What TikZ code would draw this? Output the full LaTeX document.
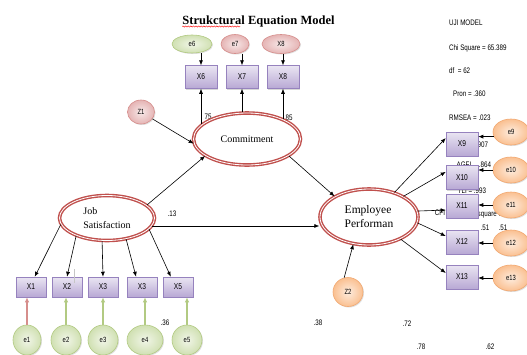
\documentclass[tikz,border=0pt]{standalone}
\usepackage{fontspec}
\setmainfont{Liberation Serif}
\newfontfamily\narrowsf[FakeStretch=0.78]{Liberation Sans}
\usetikzlibrary{arrows}
\usetikzlibrary{arrows.meta}
\usetikzlibrary{shapes.geometric}
\usetikzlibrary{shadows}
\usetikzlibrary{decorations.pathmorphing}

\definecolor{semred}{RGB}{192,80,77}
\definecolor{boxfill}{RGB}{184,168,212}
\definecolor{boxline}{RGB}{150,130,190}
\definecolor{grnfill}{RGB}{208,224,178}
\definecolor{grnline}{RGB}{178,202,130}
\definecolor{pnkfill}{RGB}{229,180,180}
\definecolor{pnkline}{RGB}{214,142,140}
\definecolor{orgfill}{RGB}{250,192,145}
\definecolor{orgline}{RGB}{242,168,112}

\tikzset{
  latent/.style={ellipse, draw=semred, line width=1.4pt, double=white, double distance=0.8pt,
    fill=white, inner sep=0pt, align=left, font=\fontsize{10}{14}\selectfont},
  indicator/.style={rectangle, draw=boxline, line width=0.5pt, top color=boxfill!30, bottom color=boxfill,
    minimum width=32pt, minimum height=23pt, inner sep=0pt, font=\narrowsf\fontsize{8.5}{8.5}\selectfont,
    drop shadow={opacity=0.3, shadow xshift=1.2pt, shadow yshift=-1.2pt}},
  errball/.style={ellipse, line width=0.6pt, inner sep=0pt, font=\narrowsf\fontsize{7.5}{7.5}\selectfont,
    drop shadow={opacity=0.25, shadow xshift=1pt, shadow yshift=-1pt}},
  errgreen/.style={errball, draw=grnline, inner color=grnfill!30, outer color=grnfill},
  errpink/.style={errball, draw=pnkline, inner color=pnkfill!30, outer color=pnkfill},
  errorange/.style={errball, draw=orgline, inner color=orgfill!30, outer color=orgfill},
  stat/.style={inner sep=0pt, font=\narrowsf\fontsize{8}{9}\selectfont},
  link/.style={->, >={Latex[length=5pt,width=4pt]}, line width=0.6pt},
  feed/.style={->, >={Latex[length=5pt,width=4.5pt]}, line width=1.2pt, draw=grnline},
  squiggle/.style={draw=red, line width=0.4pt, decorate, decoration={snake, amplitude=0.6pt, segment length=2.6pt}}
}

\begin{document}
\begin{tikzpicture}[x=1pt, y=-1pt]
\useasboundingbox (0,0) rectangle (527,354);
\clip (0,0) rectangle (527,354);
\fill[white] (0,0) rectangle (527,354);

% title
\node[inner sep=0pt, font=\bfseries\fontsize{12.5}{14}\selectfont] (title) at (258.5,21) {Strukctural Equation Model};
\draw[squiggle] (title.base west) ++(0,2.5) -- ++(58,0);

% fit statistics
\node[stat, anchor=west] (uji) at (449,23) {UJI MODEL};
\node[stat, anchor=west] (chi) at (449,48) {Chi Square = 65.389};
\node[stat, anchor=west] (df) at (449,71) {df\ \ = 62};
\node[stat, anchor=west] (pron) at (453,94) {Pron = .360};
\node[stat, anchor=west] (rmsea) at (449,118) {RMSEA = .023};
\node[stat, anchor=west] (gfi) at (477.5,145) {907};
\node[stat] (agfi) at (464,165) {AGFI};
\node[stat] (agfiv) at (485,165) {.864};
\node[stat] (tli) at (472,191) {TLI = .993};
\node[stat] (cfi) at (440,213) {CFI};
\node[stat] (sq) at (489,215) {square :};
\node[stat] (r51a) at (485,228) {.51};
\node[stat] (r51b) at (503,228) {.51};

% loadings and other values
\node[stat] (l75) at (208,117) {75};
\node[stat] (l85) at (289,118) {85};
\node[stat] (l13) at (172,214) {.13};
\node[stat] (l36) at (165,323) {.36};
\node[stat] (l38) at (318,323) {.38};
\node[stat] (l72) at (407,324) {.72};
\node[stat] (l78) at (421,347) {.78};
\node[stat] (l62) at (490,347) {.62};

% latent variables
\node[latent, minimum width=107pt, minimum height=52pt] (com) at (247,139) {Commitment};
\node[latent, minimum width=95pt, minimum height=45pt] (js) at (107,218) {Job\\Satisfaction};
\node[latent, minimum width=98pt, minimum height=56pt, font=\fontsize{11.5}{14}\selectfont] (emp) at (369,217) {Employee\\Performan};

% disturbances
\node[errpink, minimum width=27pt, minimum height=24pt] (z1) at (141,112) {Z1};
\node[errorange, minimum width=30pt, minimum height=29pt] (z2) at (348,292) {Z2};

% Commitment indicators
\node[errgreen, minimum width=40pt, minimum height=18pt] (e6) at (192,44) {e6};
\node[errpink, minimum width=28pt, minimum height=19pt] (e7) at (235,44) {e7};
\node[errpink, minimum width=38pt, minimum height=19pt] (e8) at (281,44) {X8};
\node[indicator] (x6) at (201,77) {X6};
\node[indicator] (x7) at (242,77) {X7};
\node[indicator] (x8) at (283,77) {X8};

% Job Satisfaction indicators
\node[indicator, minimum width=30pt, minimum height=20pt] (x1) at (31,287) {X1};
\node[indicator, minimum width=30pt, minimum height=20pt] (x2) at (67,287) {X2};
\node[indicator, minimum width=30pt, minimum height=20pt] (x3) at (103,287) {X3};
\node[indicator, minimum width=30pt, minimum height=20pt] (x4) at (142,287) {X3};
\node[indicator, minimum width=30pt, minimum height=20pt] (x5) at (178,287) {X5};
\node[errgreen, minimum width=28pt, minimum height=30pt] (e1) at (27,340) {e1};
\node[errgreen, minimum width=30pt, minimum height=30pt] (e2) at (66,340) {e2};
\node[errgreen, minimum width=30pt, minimum height=30pt] (e3) at (103,340) {e3};
\node[errgreen, minimum width=36pt, minimum height=30pt] (e4) at (145,340) {e4};
\node[errgreen, minimum width=30pt, minimum height=30pt] (e5) at (187,340) {e5};
\draw[gray!45, line width=0.4pt] (74,269) -- (74,283);

% Employee Performan indicators
\node[indicator, minimum height=24pt] (x9) at (462,144) {X9};
\node[indicator, minimum height=24pt] (x10) at (462,177.5) {X10};
\node[indicator, minimum height=24pt] (x11) at (462,206) {X11};
\node[indicator, minimum height=24pt] (x12) at (462,242) {X12};
\node[indicator, minimum height=24pt] (x13) at (462,277) {X13};
\node[errorange, minimum width=36pt, minimum height=26pt] (e9) at (511,132) {e9};
\node[errorange, minimum width=36pt, minimum height=26pt] (e10) at (511,170) {e10};
\node[errorange, minimum width=36pt, minimum height=26pt] (e11) at (511,205) {e11};
\node[errorange, minimum width=36pt, minimum height=26pt] (e12) at (511,243) {e12};
\node[errorange, minimum width=36pt, minimum height=26pt] (e13) at (511,278) {e13};

% structural paths
\draw[link] (js.18) -- (com.202);
\draw[link] (js.-10) -- (js.-10 -| emp.west);
\draw[link] (com.338) -- (emp.149);
\draw[link] (z1) -- (com.185);
\draw[link] (z2.105) -- (emp.240);

% measurement paths
\draw[link] (x6 |- e6.south) -- (x6.north);
\draw[link] (x7 |- e7.south) -- (x7.north);
\draw[link] (x8 |- e8.south) -- (x8.north);
\draw[link] (x6 |- com.161) -- (x6.south);
\draw[link] (x7 |- com.north) -- (x7.south);
\draw[link] (x8 |- com.30) -- (x8.south);

\draw[link] (js.188) -- (x1.70);
\draw[link] (js.210) -- (x2.north);
\draw[link] (js.258) -- (x3.north);
\draw[link] (js.312) -- (x4.120);
\draw[link] (js.345) -- (x5.125);
\draw[feed, draw=pnkline] (e1.north) -- (e1.north |- x1.south);
\draw[feed] (e2.north) -- (e2.north |- x2.south);
\draw[feed] (e3.north) -- (e3.north |- x3.south);
\draw[feed] (e4.north) -- (e4.north |- x4.south);
\draw[feed] (e5.north) -- (e5.north |- x5.south);

\draw[link] (emp.44) -- (x9.160);
\draw[link] (emp.31) -- (x10.161);
\draw[link] (emp.7) -- (x11.194);
\draw[link] (emp.353) -- (x12.160);
\draw[link] (emp.325) -- (x13.166);
\draw[link] (e9.195) -- (e9.195 -| x9.east);
\draw[link] (e10.west) -- (e10.west -| x10.east);
\draw[link] (e11.west) -- (e11.west -| x11.east);
\draw[link] (e12.west) -- (e12.west -| x12.east);
\draw[link] (e13.west) -- (e13.west -| x13.east);
\end{tikzpicture}
\end{document}
